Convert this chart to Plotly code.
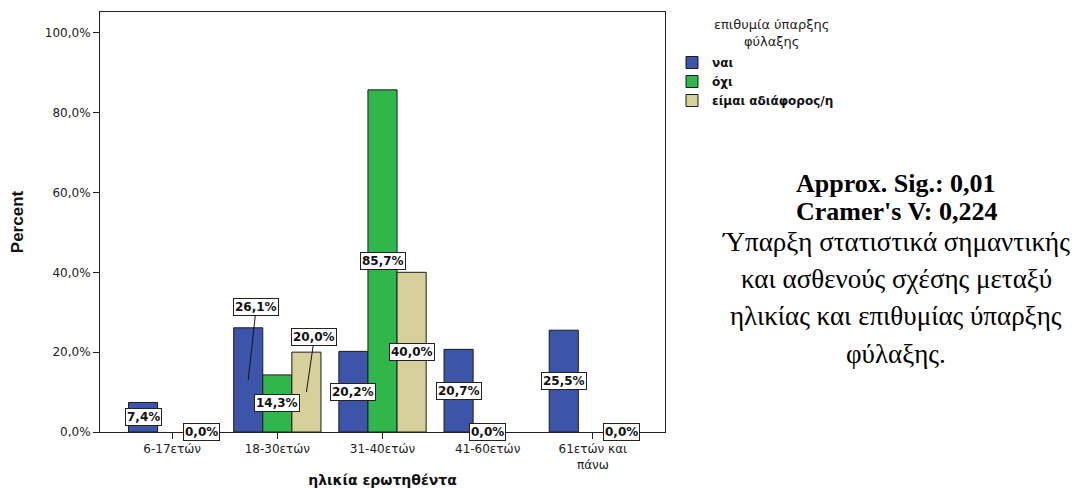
import plotly.graph_objects as go

categories = ["6-17ετών", "18-30ετών", "31-40ετών", "41-60ετών", "61ετών και<br>πάνω"]
series_names = ["ναι", "όχι", "είμαι αδιάφορος/η"]
vals_nai = [7.4, 26.1, 20.2, 20.7, 25.5]
vals_oxi = [None, 14.3, 85.7, 0.0, None]
vals_adiaf = [0.0, 20.0, 40.0, None, 0.0]
colors = ["#3d55a9", "#30b74b", "#d5d09c"]
y_ticks = [0, 20, 40, 60, 80, 100]
y_ticktext = ["0,0%", "20,0%", "40,0%", "60,0%", "80,0%", "100,0%"]
legend_title = "επιθυμία ύπαρξης<br>φύλαξης"
stats_lines_bold = ["Approx. Sig.: 0,01", "Cramer's V: 0,224"]
stats_lines = ["Ύπαρξη στατιστικά σημαντικής", "και ασθενούς σχέσης μεταξύ",
               "ηλικίας και επιθυμίας ύπαρξης", "φύλαξης."]
# labels displaced with leader lines: (series index, category index) -> (ax, ay) px offsets
displaced = {(0, 1): (8, -73), (2, 1): (8, -55)}

series = [vals_nai, vals_oxi, vals_adiaf]
xs = list(range(len(categories)))
bargap = 0.17

OFF = 8  # page body margin
W, H = 1085 - OFF, 488 - OFF
# plot-area box in screen pixels
SL, SR, ST, SB = 100, 665, 12, 432
L, R, T, B = SL - OFF, SR - OFF, ST - OFF, SB - OFF


def px_x(p):
    return (p - SL) / (SR - SL)


def px_y(p):
    return (SB - p) / (SB - ST)


fig = go.Figure()
for name, vals, col in zip(series_names, series, colors):
    fig.add_trace(go.Bar(
        x=xs, y=vals, name=name,
        marker=dict(color=col, line=dict(color="#1c1c1c", width=1)),
    ))

lab_font = dict(family="DejaVu Sans, Verdana", size=12, color="#111", weight="bold")
annotations = []
bw = (1 - bargap) / 3
for si, vals in enumerate(series):
    for ci, v in enumerate(vals):
        if v is None:
            continue
        xpos = ci + (si - 1) * bw
        txt = f"{v:.1f}".replace(".", ",") + "%"
        base = dict(x=xpos, y=v / 2, xref="x", yref="y", text=txt,
                    bgcolor="white", bordercolor="#222", borderwidth=1,
                    borderpad=1, font=lab_font)
        if (si, ci) in displaced:
            ax, ay = displaced[(si, ci)]
            base.update(showarrow=True, arrowhead=0, arrowwidth=1,
                        arrowcolor="#111", ax=ax, ay=ay)
        else:
            base.update(showarrow=False)
        annotations.append(base)

# legend title (centered over the legend entries)
annotations.append(dict(
    x=px_x(771), y=px_y(33), xref="paper", yref="paper", text=legend_title,
    showarrow=False, xanchor="center", yanchor="middle", align="center",
    font=dict(family="DejaVu Sans, Verdana", size=13, color="#222")))

# right-side statistics text
cx = 896
for yy, line in zip([183, 211], stats_lines_bold):
    annotations.append(dict(
        x=px_x(cx), y=px_y(yy), xref="paper", yref="paper",
        text="<b>" + line + "</b>", showarrow=False, xanchor="center", yanchor="middle",
        font=dict(family="Liberation Serif, Times New Roman", size=26, color="black")))
for yy, line in zip([241.5, 279, 316, 353.5], stats_lines):
    annotations.append(dict(
        x=px_x(cx), y=px_y(yy), xref="paper", yref="paper",
        text=line, showarrow=False, xanchor="center", yanchor="middle",
        font=dict(family="Liberation Serif, Times New Roman", size=27, color="black")))

fig.update_layout(
    width=W, height=H,
    margin=dict(l=L, r=W - R, t=T, b=H - B, autoexpand=False),
    paper_bgcolor="white", plot_bgcolor="white",
    barmode="group", bargap=bargap, bargroupgap=0,
    font=dict(family="DejaVu Sans, Verdana", color="#222"),
    showlegend=True,
    legend=dict(
        x=px_x(672), y=px_y(48), xanchor="left", yanchor="top",
        font=dict(family="DejaVu Sans, Verdana", size=12, color="#111", weight="bold"),
        itemwidth=30, tracegroupgap=0, bgcolor="rgba(0,0,0,0)",
    ),
    annotations=annotations,
    xaxis=dict(
        range=[-0.686, len(categories) - 1 + 0.686],
        tickmode="array", tickvals=xs, ticktext=categories,
        ticks="outside", ticklen=6, tickcolor="#222",
        showline=True, linecolor="#222", linewidth=1, mirror=True,
        showgrid=False, zeroline=False, automargin=False,
        tickfont=dict(family="DejaVu Sans, Verdana", size=12, color="#222"),
        title=dict(text="<b>ηλικία ερωτηθέντα</b>", standoff=20,
                   font=dict(family="DejaVu Sans, Verdana", size=14, color="#111")),
    ),
    yaxis=dict(
        range=[0, 105.2],
        tickmode="array", tickvals=y_ticks, ticktext=y_ticktext,
        ticks="outside", ticklen=6, tickcolor="#222",
        showline=True, linecolor="#222", linewidth=1, mirror=True,
        showgrid=False, zeroline=False, automargin=False,
        tickfont=dict(family="DejaVu Sans, Verdana", size=12, color="#222"),
        title=dict(text="<b>Percent</b>", standoff=24,
                   font=dict(family="Liberation Sans Narrow, Arial Narrow, Liberation Sans", size=17, color="#111")),
    ),
)

fig.write_html("out.html")
